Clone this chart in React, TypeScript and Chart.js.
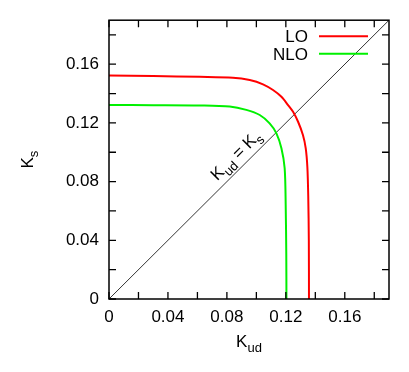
import React, { useEffect, useRef } from "react";
import { Chart, registerables } from "chart.js";

Chart.register(...registerables);

// ---- data ----
const seriesNames = ["LO", "NLO"];
const seriesColors = ["#ff0000", "#00f000"];

const loX = [0, 0.03, 0.0615, 0.0841, 0.0955, 0.1045, 0.1113, 0.117, 0.1215, 0.1249, 0.1283, 0.1316, 0.1335, 0.1346, 0.1352, 0.1356, 0.1357];
const loY = [0.1523, 0.1519, 0.1514, 0.1508, 0.1492, 0.1463, 0.1424, 0.1378, 0.1322, 0.1276, 0.1208, 0.1118, 0.1027, 0.09, 0.07, 0.04, 0];

const nloX = [0, 0.03, 0.0615, 0.0819, 0.0932, 0.1023, 0.109, 0.1136, 0.117, 0.1192, 0.1199, 0.1203, 0.1204];
const nloY = [0.1322, 0.1321, 0.1319, 0.1312, 0.1289, 0.1254, 0.1197, 0.1129, 0.1027, 0.0891, 0.0641, 0.03, 0];

const diagX = [0, 0.19];
const diagY = [0, 0.19];

const axisMin = 0;
const axisMax = 0.19;
const tickValues = [0, 0.02, 0.04, 0.06, 0.08, 0.1, 0.12, 0.14, 0.16, 0.18];
const labelValues = [0, 0.04, 0.08, 0.12, 0.16];
const tickLabels = ["0", "0.04", "0.08", "0.12", "0.16"];

const diagLabelAt = 0.092;

const FONT = '"Liberation Sans", Arial, Helvetica, sans-serif';
const MAIN = 17;
const SUB = 13;

function toPoints(xs: number[], ys: number[]) {
  return xs.map((x, i) => ({ x, y: ys[i] }));
}

function labelFor(v: number) {
  const i = labelValues.findIndex((l) => Math.abs(l - v) < 1e-9);
  return i >= 0 ? tickLabels[i] : "";
}

type Piece = [string, boolean];

function drawPieces(ctx: CanvasRenderingContext2D, pieces: Piece[], x: number, y: number) {
  // x is centre, y is baseline
  let total = 0;
  for (const [t, sub] of pieces) {
    ctx.font = `${sub ? SUB : MAIN}px ${FONT}`;
    total += ctx.measureText(t).width;
  }
  let cx = x - total / 2;
  ctx.textAlign = "left";
  ctx.textBaseline = "alphabetic";
  for (const [t, sub] of pieces) {
    ctx.font = `${sub ? SUB : MAIN}px ${FONT}`;
    ctx.fillText(t, cx, y + (sub ? 5 : 0));
    cx += ctx.measureText(t).width;
  }
}

const decorPlugin = {
  id: "decor",
  afterDraw(chart: any) {
    const { ctx, chartArea, scales } = chart;
    const { left, right, top, bottom } = chartArea;
    const xs = scales.x;
    const ys = scales.y;
    ctx.save();
    ctx.strokeStyle = "#000";
    ctx.lineWidth = 1.3;
    const tl = 7;
    ctx.beginPath();
    for (const v of tickValues) {
      const px = xs.getPixelForValue(v);
      ctx.moveTo(px, bottom);
      ctx.lineTo(px, bottom - tl);
      ctx.moveTo(px, top);
      ctx.lineTo(px, top + tl);
      const py = ys.getPixelForValue(v);
      ctx.moveTo(left, py);
      ctx.lineTo(left + tl, py);
      ctx.moveTo(right, py);
      ctx.lineTo(right - tl, py);
    }
    ctx.stroke();
    ctx.lineWidth = 1.5;
    ctx.strokeRect(left, top, right - left, bottom - top);

    // legend
    ctx.fillStyle = "#000";
    ctx.font = `${MAIN}px ${FONT}`;
    seriesNames.forEach((name, i) => {
      const ly = top + 16 + i * 17.5;
      const lineEnd = right - 21;
      const lineStart = lineEnd - 49;
      ctx.textAlign = "right";
      ctx.textBaseline = "middle";
      ctx.fillText(name, lineStart - 11, ly + 1.5);
      ctx.strokeStyle = seriesColors[i];
      ctx.lineWidth = 2;
      ctx.beginPath();
      ctx.moveTo(lineStart, ly);
      ctx.lineTo(lineEnd, ly);
      ctx.stroke();
    });

    // x title
    ctx.fillStyle = "#000";
    drawPieces(ctx, [["K", false], ["ud", true]], (left + right) / 2, bottom + 48);

    // y title
    ctx.save();
    ctx.translate(left - 76, (top + bottom) / 2);
    ctx.rotate(-Math.PI / 2);
    drawPieces(ctx, [["K", false], ["s", true]], 0, 0);
    ctx.restore();

    // diagonal label
    ctx.save();
    const ax = xs.getPixelForValue(diagLabelAt);
    const ay = ys.getPixelForValue(diagLabelAt);
    ctx.translate(ax, ay);
    ctx.rotate(-Math.PI / 4);
    drawPieces(
      ctx,
      [["K", false], ["ud", true], [" = ", false], ["K", false], ["s", true]],
      0,
      -7
    );
    ctx.restore();

    ctx.restore();
  },
};

export default function App() {
  const ref = useRef<HTMLCanvasElement | null>(null);
  useEffect(() => {
    if (!ref.current) return;
    const chart = new Chart(ref.current, {
      type: "scatter",
      data: {
        datasets: [
          {
            label: "diag",
            data: toPoints(diagX, diagY),
            showLine: true,
            borderColor: "#000",
            borderWidth: 0.8,
            pointRadius: 0,
            order: 3,
          },
          {
            label: seriesNames[0],
            data: toPoints(loX, loY),
            showLine: true,
            borderColor: seriesColors[0],
            borderWidth: 2,
            pointRadius: 0,
            tension: 0.3,
            order: 1,
          },
          {
            label: seriesNames[1],
            data: toPoints(nloX, nloY),
            showLine: true,
            borderColor: seriesColors[1],
            borderWidth: 2,
            pointRadius: 0,
            tension: 0.3,
            order: 2,
          },
        ],
      },
      options: {
        animation: false,
        responsive: false,
        layout: { padding: { left: 0, top: 20, right: 20, bottom: 0 } },
        plugins: { legend: { display: false }, tooltip: { enabled: false } },
        scales: {
          x: {
            type: "linear",
            min: axisMin,
            max: axisMax,
            afterBuildTicks: (s: any) => {
              s.ticks = tickValues.map((v) => ({ value: v }));
            },
            afterFit: (s: any) => {
              s.height = 73;
            },
            ticks: {
              autoSkip: false,
              maxRotation: 0,
              padding: 8,
              color: "#000",
              font: { family: FONT, size: MAIN },
              callback: (v: any) => labelFor(Number(v)),
            },
            grid: { display: false, drawTicks: false },
            border: { display: false },
          },
          y: {
            type: "linear",
            min: axisMin,
            max: axisMax,
            afterBuildTicks: (s: any) => {
              s.ticks = tickValues.map((v) => ({ value: v }));
            },
            afterFit: (s: any) => {
              s.width = 109;
            },
            ticks: {
              autoSkip: false,
              padding: 10,
              color: "#000",
              font: { family: FONT, size: MAIN },
              callback: (v: any) => labelFor(Number(v)),
            },
            grid: { display: false, drawTicks: false },
            border: { display: false },
          },
        },
      },
      plugins: [decorPlugin],
    } as any);
    return () => chart.destroy();
  }, []);
  return (
    <div style={{ position: "fixed", left: 0, top: 0, width: 409, height: 372, background: "#fff" }}>
      <canvas ref={ref} width={409} height={372} style={{ display: "block" }} />
    </div>
  );
}
